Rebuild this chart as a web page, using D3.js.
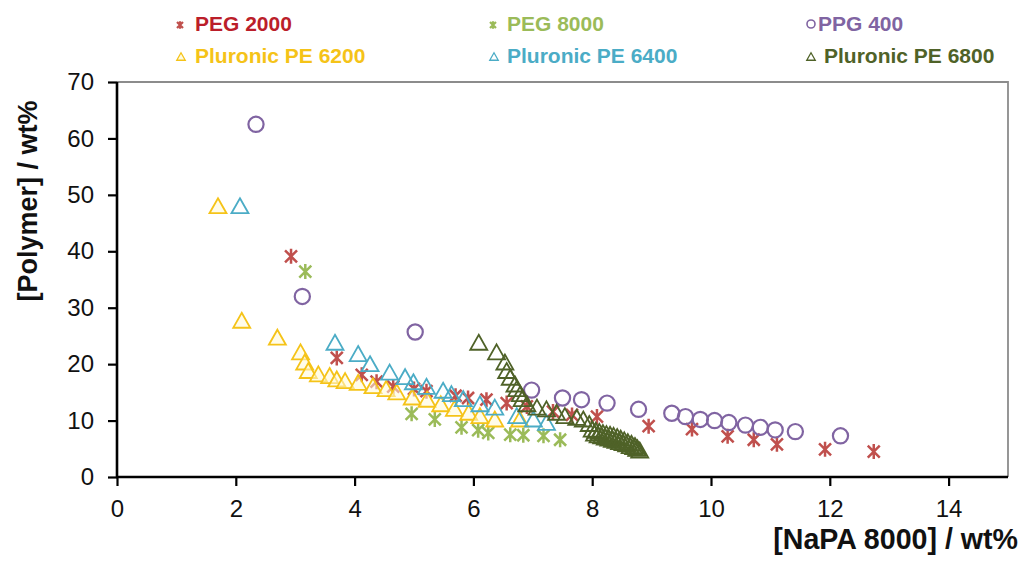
<!DOCTYPE html>
<html><head><meta charset="utf-8">
<script src="https://cdn.jsdelivr.net/npm/d3@7"></script>
<style>body{margin:0;background:#fff}svg{display:block}</style>
</head><body>
<svg id="c" width="1027" height="565"></svg>
<script>
const xTicks = [0, 2, 4, 6, 8, 10, 12, 14];
const yTicks = [0, 10, 20, 30, 40, 50, 60, 70];
const xTitle = "[NaPA 8000] / wt%";
const yTitle = "[Polymer] / wt%";
const seriesNames = ["PEG 2000", "PEG 8000", "PPG 400", "Pluronic PE 6200", "Pluronic PE 6400", "Pluronic PE 6800"];

const peg2000 = [[2.93,39.1],[3.70,21.1],[4.12,18.1],[4.37,16.9],[4.65,16.0],[5.00,15.6],[5.21,15.2],[5.70,14.4],[5.91,14.0],[6.22,13.7],[6.56,13.1],[6.90,12.5],[7.34,11.6],[7.66,11.0],[8.08,10.7],[8.95,9.0],[9.68,8.5],[10.28,7.2],[10.72,6.6],[11.11,5.8],[11.92,4.9],[12.74,4.5]];
const peg8000 = [[3.17,36.4],[4.96,11.2],[5.35,10.2],[5.80,8.8],[6.08,8.3],[6.25,7.8],[6.62,7.5],[6.84,7.4],[7.18,7.3],[7.46,6.6]];
const ppg400 = [[2.34,62.5],[3.12,32.0],[5.02,25.7],[6.98,15.4],[7.50,14.0],[7.82,13.7],[8.25,13.1],[8.78,12.0],[9.34,11.3],[9.57,10.7],[9.82,10.2],[10.06,10.0],[10.30,9.65],[10.58,9.2],[10.83,8.8],[11.08,8.35],[11.42,8.05],[12.18,7.3]];
const pe6200 = [[1.70,47.9],[2.10,27.6],[2.70,24.6],[3.09,22.0],[3.16,20.2],[3.22,18.7],[3.39,18.1],[3.58,17.8],[3.70,17.2],[3.84,16.9],[4.06,16.6],[4.31,16.0],[4.53,15.5],[4.71,14.9],[4.97,14.0],[5.22,13.6],[5.45,12.8],[5.68,12.0],[5.92,11.3],[6.11,10.7],[6.36,10.1],[6.78,10.1]];
const pe6400 = [[2.07,47.9],[3.67,23.7],[4.06,21.7],[4.26,19.9],[4.59,18.4],[4.85,17.6],[4.99,16.7],[5.21,15.9],[5.49,15.2],[5.63,14.6],[5.83,13.7],[6.11,12.8],[6.36,12.2],[6.73,10.7],[7.01,10.1],[7.23,9.5]];
const pe6800 = [[6.09,23.7],[6.39,22.0],[6.53,20.2],[6.56,18.7],[6.62,17.5],[6.70,16.3],[6.73,15.5],[6.79,14.6],[6.82,13.7],[6.90,12.8],[7.07,12.2],[7.23,11.9],[7.40,11.3],[7.54,10.7],[7.74,10.4],[7.85,10.1],[7.95,9.3],
  [8.00,8.3],[8.06,8.1],[8.12,7.9],[8.18,7.7],[8.24,7.5],[8.30,7.4],[8.36,7.2],[8.42,7.0],[8.48,6.7],[8.54,6.4],[8.60,6.1],[8.66,5.8],[8.72,5.4],[8.76,5.0],
  [8.04,7.6],[8.10,7.3],[8.16,7.1],[8.22,6.9],[8.28,6.7],[8.34,6.5],[8.40,6.3],[8.46,6.1],[8.52,5.9],[8.58,5.7],[8.64,5.4],[8.70,5.2],[8.75,4.9],[8.80,4.6]];

const seriesData = [peg2000, peg8000, ppg400, pe6200, pe6400, pe6800];
const markerColors = ["#c0504d", "#9bbb59", "#8064a2", "#f5c318", "#4bacc6", "#4f6228"];
const textColors = ["#bb1e2a", "#9bbb59", "#8064a2", "#f5c318", "#4bacc6", "#4f6228"];
const shapes = ["star", "star", "circle", "tri", "tri", "tri"];

const FONT = "'Liberation Sans', Arial, sans-serif";
const svg = d3.select("#c");
const x = d3.scaleLinear().domain([0, 15]).range([117, 1008]);
const y = d3.scaleLinear().domain([0, 70]).range([477, 82]);

// plot border (top/right gray)
svg.append("path").attr("d", `M${x(0)},${y(70)}H${x(15)}V${y(0)}`)
  .attr("fill", "none").attr("stroke", "#8c8c8c").attr("stroke-width", 1.8);

const xAxis = svg.append("g").attr("transform", `translate(0,${y(0)})`)
  .call(d3.axisBottom(x).tickValues(xTicks).tickSize(9).tickPadding(14).tickSizeOuter(0));
const yAxis = svg.append("g").attr("transform", `translate(${x(0)},0)`)
  .call(d3.axisLeft(y).tickValues(yTicks).tickSize(9).tickPadding(14).tickSizeOuter(0));
[xAxis, yAxis].forEach(a => {
  a.select(".domain").attr("stroke", "#000").attr("stroke-width", 2.6);
  a.selectAll(".tick line").attr("stroke", "#000").attr("stroke-width", 2.2);
  a.selectAll(".tick text").attr("font-family", FONT).attr("font-size", 24).attr("fill", "#111");
});
xAxis.select(".domain").attr("d", `M${x(0)-1},0H${x(15)}`);
yAxis.select(".domain").attr("d", `M0,${y(0)+1}V${y(70)}`);

function shapePath(s, k) {
  if (s === "star") return `M${-6*k},${-6*k}L${6*k},${6*k}M${-6*k},${6*k}L${6*k},${-6*k}M0,${-7.5*k}V${7.5*k}`;
  if (s === "tri") return `M0,${-8.5*k}L${8.5*k},${6.5*k}L${-8.5*k},${6.5*k}Z`;
  return null;
}

const plot = svg.append("g");
seriesData.forEach((data, i) => {
  const g = plot.append("g");
  const s = shapes[i];
  if (s === "circle") {
    g.selectAll("circle").data(data).join("circle")
      .attr("cx", d => x(d[0])).attr("cy", d => y(d[1])).attr("r", 7.6)
      .attr("fill", "none").attr("stroke", markerColors[i]).attr("stroke-width", 2.2);
  } else {
    g.selectAll("path").data(data).join("path")
      .attr("transform", d => `translate(${x(d[0])},${y(d[1])})`)
      .attr("d", shapePath(s, 1))
      .attr("fill", s === "tri" ? (i === 3 ? "rgba(255,250,215,0.55)" : "none") : "none")
      .attr("stroke", markerColors[i]).attr("stroke-width", s === "star" ? 2.5 : 1.8)
      .attr("stroke-linejoin", "miter");
  }
});

// legend
const legX = [[180, 195], [493, 507], [810, 818]];
const legY = [23, 55];
seriesNames.forEach((name, i) => {
  const col = i % 3, row = Math.floor(i / 3);
  const [mx, tx] = legX[col];
  const cy = legY[row];
  const g = svg.append("g");
  if (shapes[i] === "circle") {
    g.append("circle").attr("cx", mx + 1).attr("cy", cy + 1).attr("r", 4)
      .attr("fill", "none").attr("stroke", markerColors[i]).attr("stroke-width", 1.6);
  } else {
    g.append("path").attr("transform", `translate(${mx + (row ? 1 : 0)},${cy + 2})`)
      .attr("d", shapePath(shapes[i], 0.5))
      .attr("fill", shapes[i] === "tri" ? (i === 3 ? "#fffbe0" : "none") : "none")
      .attr("stroke", markerColors[i]).attr("stroke-width", shapes[i] === "star" ? 2.2 : 1.3);
  }
  g.append("text").attr("x", tx + (col === 2 && row === 1 ? 6 : 0)).attr("y", cy + 7.5)
    .attr("font-family", FONT).attr("font-size", 21).attr("font-weight", "bold")
    .attr("fill", textColors[i]).text(name);
});

// axis titles
svg.append("text").attr("x", 1018).attr("y", 549).attr("text-anchor", "end")
  .attr("font-family", FONT).attr("font-size", 28.6).attr("font-weight", "bold").attr("fill", "#111")
  .text(xTitle);
svg.append("text").attr("transform", "translate(37,201) rotate(-90)").attr("text-anchor", "middle")
  .attr("font-family", FONT).attr("font-size", 27).attr("font-weight", "bold").attr("fill", "#111")
  .text(yTitle);
</script>
</body></html>
